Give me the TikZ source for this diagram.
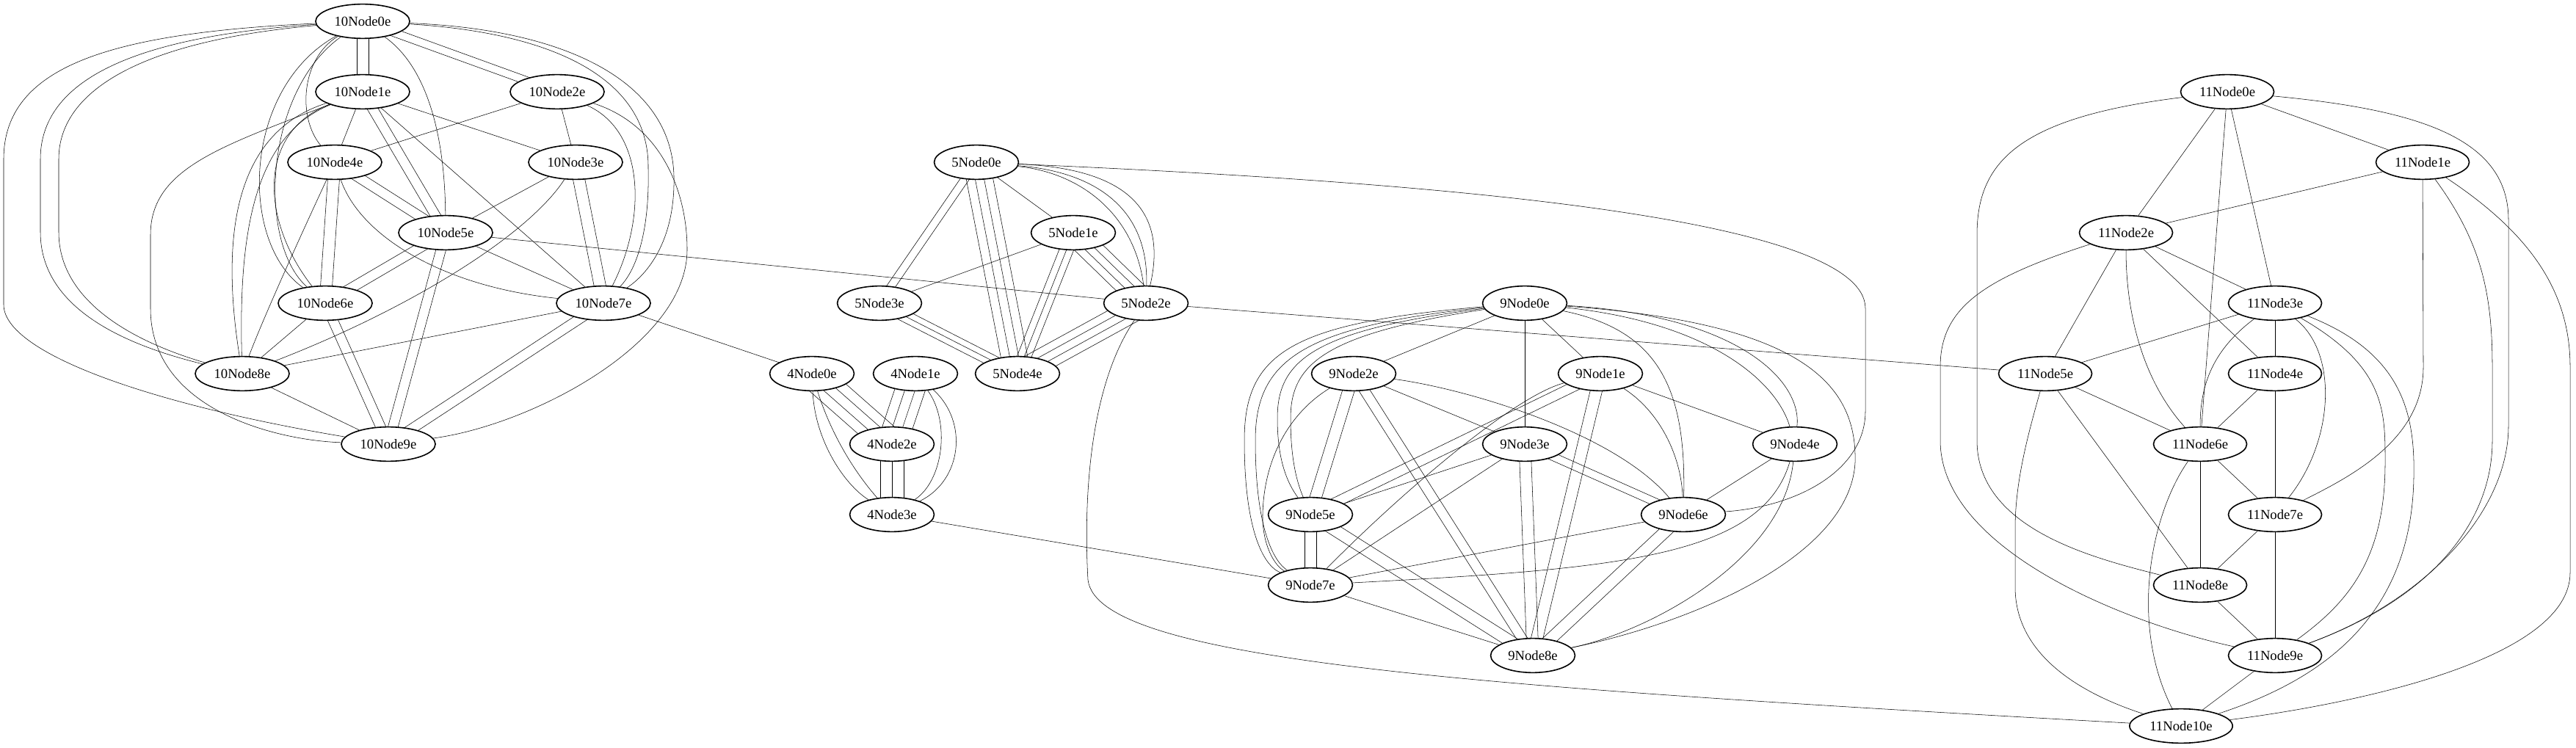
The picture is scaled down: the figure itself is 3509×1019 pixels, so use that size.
\documentclass[tikz,border=0pt]{standalone}
\usepackage{fontspec}
\setmainfont{Liberation Serif}
\usetikzlibrary{shapes.geometric, calc}
\pgfdeclarelayer{edges}
\pgfsetlayers{edges,main}
% parallel copy of an edge, shifted sideways
\newcommand{\paredge}[3]{\draw ($(#1.center)!#3!90:(#2.center)$) -- ($(#2.center)!#3!-90:(#1.center)$);}
\tikzset{
  gnode/.style={ellipse, draw, fill=white, inner xsep=5.2pt, inner ysep=1pt, minimum height=35pt, font=\fontsize{14}{17}\selectfont},
}

\begin{document}
\begin{tikzpicture}[x=0.75pt, y=-0.75pt, line width=1.2pt]
\useasboundingbox (0,0) rectangle (3509,1019);
% 10Node
\node[gnode] (ten0) at (494,29) {10Node0e};
\node[gnode] (ten1) at (494,125) {10Node1e};
\node[gnode] (ten2) at (759,125) {10Node2e};
\node[gnode] (ten3) at (784,221) {10Node3e};
\node[gnode] (ten4) at (456,221) {10Node4e};
\node[gnode] (ten5) at (607,317) {10Node5e};
\node[gnode] (ten6) at (443,413) {10Node6e};
\node[gnode] (ten7) at (822,413) {10Node7e};
\node[gnode] (ten8) at (330,509) {10Node8e};
\node[gnode] (ten9) at (529,605) {10Node9e};
% 5Node
\node[gnode] (five0) at (1330,221) {5Node0e};
\node[gnode] (five1) at (1462,317) {5Node1e};
\node[gnode] (five2) at (1561,413) {5Node2e};
\node[gnode] (five3) at (1198,413) {5Node3e};
\node[gnode] (five4) at (1386,509) {5Node4e};
% 4Node
\node[gnode] (four0) at (1106,509) {4Node0e};
\node[gnode] (four1) at (1247,509) {4Node1e};
\node[gnode] (four2) at (1215,605) {4Node2e};
\node[gnode] (four3) at (1215,701) {4Node3e};
% 9Node
\node[gnode] (nine0) at (2077,413) {9Node0e};
\node[gnode] (nine1) at (2180,509) {9Node1e};
\node[gnode] (nine2) at (1844,509) {9Node2e};
\node[gnode] (nine3) at (2077,605) {9Node3e};
\node[gnode] (nine4) at (2445,605) {9Node4e};
\node[gnode] (nine5) at (1785,701) {9Node5e};
\node[gnode] (nine6) at (2293,701) {9Node6e};
\node[gnode] (nine7) at (1785,797) {9Node7e};
\node[gnode] (nine8) at (2088,893) {9Node8e};
% 11Node
\node[gnode] (elv0) at (3034,125) {11Node0e};
\node[gnode] (elv1) at (3300,221) {11Node1e};
\node[gnode] (elv2) at (2896,317) {11Node2e};
\node[gnode] (elv3) at (3099,413) {11Node3e};
\node[gnode] (elv4) at (3099,509) {11Node4e};
\node[gnode] (elv5) at (2786,509) {11Node5e};
\node[gnode] (elv6) at (2997,605) {11Node6e};
\node[gnode] (elv7) at (3099,701) {11Node7e};
\node[gnode] (elv8) at (2997,797) {11Node8e};
\node[gnode] (elv9) at (3099,893) {11Node9e};
\node[gnode] (elv10) at (2971,989) {11Node10e};

\begin{pgfonlayer}{edges}
% 10Node edges
\paredge{ten0}{ten1}{6pt} \paredge{ten0}{ten1}{-6pt}
\paredge{ten0}{ten2}{4pt} \paredge{ten0}{ten2}{-4pt}
\draw (ten0) .. controls (410,80) and (405,160) .. (ten4);
\draw (ten0) .. controls (580,90) and (606,180) .. (ten5);
\draw (ten0) .. controls (330,120) and (325,330) .. (ten6);
\draw (ten0) .. controls (360,125) and (350,330) .. (ten6);
\draw (ten0) .. controls (760,45) and (885,110) .. (883,230) .. controls (885,320) and (865,370) .. (ten7);
\draw (ten0) .. controls (770,40) and (915,110) .. (918,240) .. controls (920,330) and (880,375) .. (ten7);
\draw (ten0) .. controls (180,50) and (55,110) .. (55,217) -- (55,316) .. controls (55,420) and (170,470) .. (ten8);
\draw (ten0) .. controls (200,55) and (80,120) .. (80,217) -- (80,316) .. controls (80,410) and (180,465) .. (ten8);
\draw (ten0) .. controls (150,45) and (5,90) .. (5,217) -- (5,415) .. controls (5,480) and (200,550) .. (ten9);
\draw (ten1) -- (ten3);
\draw (ten1) -- (ten4);
\paredge{ten1}{ten5}{5pt} \paredge{ten1}{ten5}{-5pt}
\draw (ten1) .. controls (350,180) and (355,300) .. (ten6);
\draw (ten1) -- (ten7);
\draw (ten1) .. controls (320,180) and (300,320) .. (ten8);
\draw (ten1) .. controls (345,185) and (325,320) .. (ten8);
\draw (ten1) .. controls (300,200) and (205,230) .. (205,320) -- (205,420) .. controls (205,560) and (380,600) .. (ten9);
\draw (ten2) -- (ten3);
\draw (ten2) -- (ten4);
\draw (ten2) .. controls (880,180) and (880,300) .. (ten7);
\draw (ten2) .. controls (900,170) and (936,260) .. (936,340) .. controls (936,470) and (720,580) .. (ten9);
\draw (ten3) -- (ten5);
\paredge{ten3}{ten7}{6pt} \paredge{ten3}{ten7}{-6pt}
\draw (ten3) .. controls (720,320) and (560,420) .. (ten8);
\paredge{ten4}{ten5}{5pt} \paredge{ten4}{ten5}{-5pt}
\paredge{ten4}{ten6}{6pt} \paredge{ten4}{ten6}{-6pt}
\draw (ten4) .. controls (490,320) and (600,390) .. (ten7);
\draw (ten4) .. controls (410,320) and (360,430) .. (ten8);
\paredge{ten5}{ten6}{5pt} \paredge{ten5}{ten6}{-5pt}
\draw (ten5) -- (ten7);
\paredge{ten5}{ten9}{5pt} \paredge{ten5}{ten9}{-5pt}
\draw (ten6) -- (ten8);
\paredge{ten6}{ten9}{5pt} \paredge{ten6}{ten9}{-5pt}
\draw (ten7) -- (ten8);
\paredge{ten7}{ten9}{5pt} \paredge{ten7}{ten9}{-5pt}
\draw (ten8) -- (ten9);
% links between groups
\draw (ten5) -- (five2);
\draw (ten7) -- (four0);
\draw (four3) -- (nine7);
\draw (five2) -- (elv5);
\draw (five0) .. controls (2000,250) and (2540,300) .. (2541,420) -- (2541,560) .. controls (2541,640) and (2450,690) .. (nine6);
\draw (five2) .. controls (1475,540) and (1478,720) .. (1482,790) .. controls (1495,900) and (2000,935) .. (elv10);
% 5Node edges
\paredge{five0}{five3}{4pt} \paredge{five0}{five3}{-4pt}
\draw (five0) -- (five1);
\draw (five0) .. controls (1470,235) and (1545,290) .. (five2);
\draw (five0) .. controls (1500,235) and (1565,290) .. (five2);
\draw (five0) .. controls (1540,230) and (1590,290) .. (five2);
\paredge{five0}{five4}{13.5pt} \paredge{five0}{five4}{4.5pt}
\paredge{five0}{five4}{-4.5pt} \paredge{five0}{five4}{-13.5pt}
\draw (five1) -- (five3);
\paredge{five1}{five2}{12pt} \paredge{five1}{five2}{4pt}
\paredge{five1}{five2}{-4pt} \paredge{five1}{five2}{-12pt}
\paredge{five1}{five4}{7pt} \paredge{five1}{five4}{0pt} \paredge{five1}{five4}{-7pt}
\paredge{five3}{five4}{6pt} \paredge{five3}{five4}{0pt} \paredge{five3}{five4}{-6pt}
\paredge{five2}{five4}{12pt} \paredge{five2}{five4}{4pt}
\paredge{five2}{five4}{-4pt} \paredge{five2}{five4}{-12pt}
% 4Node edges
\paredge{four0}{four2}{15pt} \paredge{four0}{four2}{5pt}
\paredge{four0}{four2}{-5pt} \paredge{four0}{four2}{-15pt}
\paredge{four1}{four2}{15pt} \paredge{four1}{four2}{5pt}
\paredge{four1}{four2}{-5pt} \paredge{four1}{four2}{-15pt}
\draw (four0) .. controls (1110,600) and (1150,660) .. (four3);
\draw (four0) .. controls (1135,600) and (1170,650) .. (four3);
\draw (four1) .. controls (1295,575) and (1285,655) .. (four3);
\draw (four1) .. controls (1320,575) and (1310,655) .. (four3);
\paredge{four2}{four3}{12pt} \paredge{four2}{four3}{0pt} \paredge{four2}{four3}{-12pt}
% 9Node edges
\draw (nine0) -- (nine1);
\draw (nine0) -- (nine2);
\draw (nine0) -- (nine3);
\draw (nine0) .. controls (2330,440) and (2420,520) .. (nine4);
\draw (nine0) .. controls (2370,430) and (2455,520) .. (nine4);
\draw (nine0) .. controls (1790,450) and (1740,490) .. (1740,570) .. controls (1740,630) and (1755,660) .. (nine5);
\draw (nine0) .. controls (1805,455) and (1758,495) .. (1758,570) .. controls (1758,630) and (1768,660) .. (nine5);
\draw (nine0) .. controls (2260,450) and (2297,530) .. (nine6);
\draw (nine0) .. controls (1760,440) and (1695,480) .. (1695,600) .. controls (1695,720) and (1720,770) .. (nine7);
\draw (nine0) .. controls (1775,445) and (1710,490) .. (1710,600) .. controls (1710,720) and (1735,765) .. (nine7);
\draw (nine0) .. controls (2450,440) and (2530,520) .. (2527,630) .. controls (2520,760) and (2300,850) .. (nine8);
\draw (nine1) -- (nine4);
\paredge{nine1}{nine5}{5pt} \paredge{nine1}{nine5}{-5pt}
\draw (nine1) .. controls (2260,560) and (2290,620) .. (nine6);
\draw (nine1) .. controls (2060,540) and (1900,680) .. (nine7);
\paredge{nine1}{nine8}{6pt} \paredge{nine1}{nine8}{-6pt}
\draw (nine2) -- (nine3);
\paredge{nine2}{nine5}{6pt} \paredge{nine2}{nine5}{-6pt}
\draw (nine2) .. controls (2000,530) and (2200,590) .. (nine6);
\draw (nine2) .. controls (1760,560) and (1722,620) .. (1720,700) .. controls (1719,740) and (1735,770) .. (nine7);
\paredge{nine2}{nine8}{5pt} \paredge{nine2}{nine8}{-5pt}
\draw (nine3) -- (nine5);
\paredge{nine3}{nine6}{4pt} \paredge{nine3}{nine6}{-4pt}
\draw (nine3) -- (nine7);
\paredge{nine3}{nine8}{6pt} \paredge{nine3}{nine8}{-6pt}
\draw (nine4) -- (nine6);
\draw (nine4) .. controls (2400,760) and (2200,775) .. (nine7);
\draw (nine4) .. controls (2430,760) and (2250,860) .. (nine8);
\paredge{nine5}{nine7}{6pt} \paredge{nine5}{nine7}{-6pt}
\paredge{nine5}{nine8}{6pt} \paredge{nine5}{nine8}{-6pt}
\draw (nine6) -- (nine7);
\paredge{nine6}{nine8}{6pt} \paredge{nine6}{nine8}{-6pt}
\draw (nine7) -- (nine8);
% 11Node edges
\draw (elv0) -- (elv1);
\draw (elv0) -- (elv2);
\draw (elv0) -- (elv3);
\draw (elv0) -- (elv6);
\draw (elv0) .. controls (2750,160) and (2693,220) .. (2693,320) -- (2693,600) .. controls (2693,720) and (2850,760) .. (elv8);
\draw (elv0) .. controls (3300,150) and (3417,190) .. (3417,300) -- (3417,580) .. controls (3417,700) and (3300,820) .. (elv9);
\draw (elv1) -- (elv2);
\draw (elv1) -- (3301,500) .. controls (3301,600) and (3200,650) .. (elv7);
\draw (elv1) .. controls (3380,330) and (3395,400) .. (3395,500) -- (3395,600) .. controls (3395,720) and (3300,820) .. (elv9);
\draw (elv1) .. controls (3450,320) and (3501,400) .. (3501,500) -- (3501,780) .. controls (3501,900) and (3200,960) .. (elv10);
\draw (elv2) -- (elv3);
\draw (elv2) -- (elv4);
\draw (elv2) -- (elv5);
\draw (elv2) .. controls (2896,430) and (2920,520) .. (elv6);
\draw (elv2) .. controls (2700,380) and (2643,420) .. (2643,500) -- (2643,600) .. controls (2643,750) and (2900,850) .. (elv9);
\draw (elv3) -- (elv4);
\draw (elv3) -- (elv5);
\draw (elv3) .. controls (3010,480) and (2997,530) .. (elv6);
\draw (elv3) .. controls (3185,480) and (3180,600) .. (elv7);
\draw (elv3) .. controls (3250,500) and (3249,560) .. (3249,630) .. controls (3249,760) and (3200,820) .. (elv9);
\draw (elv3) .. controls (3270,480) and (3290,560) .. (3288,650) .. controls (3285,850) and (3150,930) .. (elv10);
\draw (elv4) -- (elv6);
\draw (elv4) -- (elv7);
\draw (elv5) -- (elv6);
\draw (elv5) -- (elv8);
\draw (elv5) .. controls (2760,600) and (2745,660) .. (2745,720) -- (2745,800) .. controls (2745,900) and (2850,950) .. (elv10);
\draw (elv6) -- (elv7);
\draw (elv6) -- (elv8);
\draw (elv6) .. controls (2930,700) and (2900,850) .. (elv10);
\draw (elv7) -- (elv8);
\draw (elv7) -- (elv9);
\draw (elv8) -- (elv9);
\draw (elv9) -- (elv10);
\end{pgfonlayer}
\end{tikzpicture}
\end{document}
